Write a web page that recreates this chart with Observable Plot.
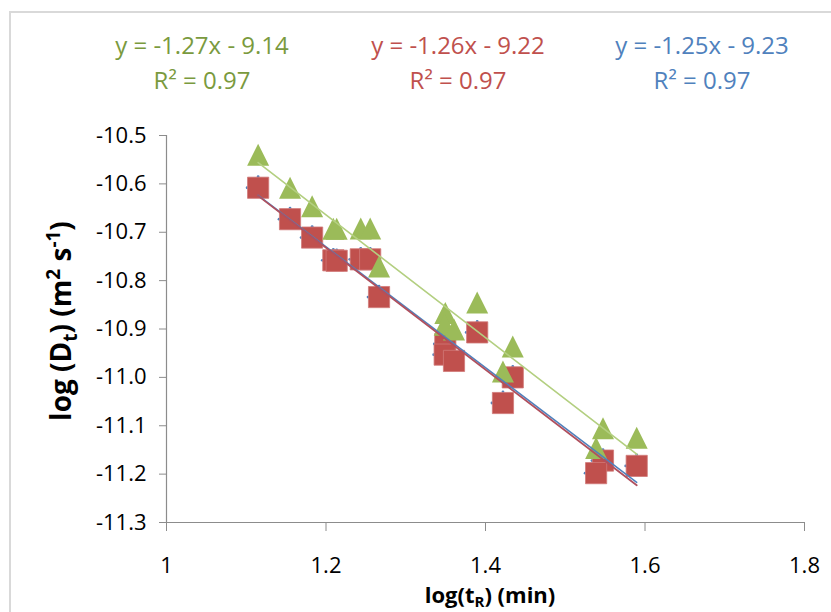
<!DOCTYPE html>
<html><head><meta charset="utf-8">
<script src="https://cdn.jsdelivr.net/npm/d3@7"></script>
<script src="https://cdn.jsdelivr.net/npm/@observablehq/plot@0.6"></script>
<style>
body{margin:0;background:#fff;overflow:hidden;}
#wrap{position:relative;width:831px;height:612px;overflow:hidden;font-family:"Open Sans",sans-serif;}
#frame{position:absolute;left:9px;top:11px;width:900px;height:700px;border-left:2px solid #d9d9d9;border-top:2px solid #d9d9d9;}
#header{position:absolute;left:0;top:0;width:831px;height:110px;}
.eq{position:absolute;transform:translate(-50%,-50%);white-space:nowrap;font-size:24px;line-height:1;}
#chart{position:absolute;left:0;top:110px;}
</style></head><body>
<div id="wrap"><div id="frame"></div><div id="header"></div><div id="chart"></div></div>
<script>
// x values: log(tR) (min)
const logTR = [1.1149,1.1549,1.1826,1.2092,1.2134,1.2436,1.2554,1.2665,1.3496,1.3488,1.3605,1.3896,1.4342,1.4219,1.5473,1.5387,1.5896];
// series values: log(Dt)
const greenD = [-10.540,-10.608,-10.646,-10.693,-10.693,-10.692,-10.692,-10.771,-10.867,-10.891,-10.901,-10.845,-10.936,-10.988,-11.105,-11.146,-11.125];
const redD   = [-10.608,-10.673,-10.711,-10.758,-10.759,-10.756,-10.756,-10.834,-10.931,-10.953,-10.966,-10.907,-11.000,-11.053,-11.172,-11.198,-11.183];
const blueD  = [-10.608,-10.673,-10.711,-10.758,-10.759,-10.756,-10.756,-10.834,-10.931,-10.953,-10.966,-10.907,-11.000,-11.053,-11.172,-11.198,-11.183];
// trendlines
const seriesKeys = ["green","red","blue"];
const slopes = [-1.27,-1.26,-1.25];
const intercepts = [-9.14,-9.22,-9.23];
const eqLabels = ["y = -1.27x - 9.14","y = -1.26x - 9.22","y = -1.25x - 9.23"];
const r2Labels = ["R² = 0.97","R² = 0.97","R² = 0.97"];
// ticks
const xTicks = [1,1.2,1.4,1.6,1.8];
const yTicks = [-10.5,-10.6,-10.7,-10.8,-10.9,-11.0,-11.1,-11.2,-11.3];

const markerColor = {green:"#9BBB59", red:"#C0504D", blue:"#4F81BD"};
const lineColor = {green:"#B3CF80", red:"#B0505E", blue:"#4F81BD"};
const textColor = {green:"#7A9A3E", red:"#C0504D", blue:"#4F81BD"};
const eqCenters = [202, 458, 702];

// header equations
const header = document.getElementById("header");
seriesKeys.forEach((k, i) => {
  [[eqLabels[i], 45], [r2Labels[i], 80]].forEach(([t, y]) => {
    const d = document.createElement("div");
    d.className = "eq";
    d.style.left = eqCenters[i] + "px";
    d.style.top = y + "px";
    d.style.color = textColor[k];
    d.textContent = t;
    header.appendChild(d);
  });
});

const pts = (vals) => logTR.map((x, i) => ({x, y: vals[i]}));
const xmin = d3.min(logTR), xmax = d3.max(logTR);
const trend = seriesKeys.flatMap((k, i) => [xmin, xmax].map(x => ({s: k, x, y: slopes[i] * x + intercepts[i]})));

const squareSym = {draw(ctx, size){ const r = Math.sqrt(size/Math.PI); ctx.rect(-r,-r,2*r,2*r); }};
const triSym = {draw(ctx, size){ const r = Math.sqrt(size/Math.PI); ctx.moveTo(0,-r); ctx.lineTo(r,r); ctx.lineTo(-r,r); ctx.closePath(); }};

const plot = Plot.plot({
  width: 831, height: 502,
  marginTop: 25, marginLeft: 166, marginRight: 27, marginBottom: 90,
  x: {domain: [1, 1.8]},
  y: {domain: [-11.3, -10.5]},
  style: {fontFamily: "'Open Sans', sans-serif", fontSize: "22px", color: "black", background: "transparent", overflow: "visible"},
  marks: [
    Plot.axisY({ticks: yTicks, tickSize: 7, tickPadding: 13, tickFormat: d => d.toFixed(1), stroke: "#8c8c8c", fill: "black", label: null, fontSize: 22}),
    Plot.axisX({ticks: xTicks, tickSize: 9, tickPadding: 26, tickFormat: d => String(+d.toFixed(1)), stroke: "#8c8c8c", fill: "black", label: null, fontSize: 22}),
    Plot.ruleX([1], {stroke: "#8c8c8c", strokeWidth: 1.2}),
    Plot.ruleY([-11.3], {stroke: "#8c8c8c", strokeWidth: 1.2}),
    Plot.dot(pts(blueD), {x: "x", y: "y", r: 1.4, fill: markerColor.blue, dy: -11}),
    Plot.dot(pts(blueD), {x: "x", y: "y", r: 1.4, fill: markerColor.blue, dx: -11}),
    Plot.dot(pts(redD), {x: "x", y: "y", r: 10.6, symbol: squareSym, fill: markerColor.red, stroke: "#d07a78", strokeWidth: 0.8}),
    Plot.dot(pts(greenD), {x: "x", y: "y", r: 11, symbol: triSym, fill: markerColor.green}),
    Plot.line(trend.filter(d => d.s === "blue"), {x: "x", y: "y", stroke: lineColor.blue, strokeWidth: 1.5}),
    Plot.line(trend.filter(d => d.s === "red"), {x: "x", y: "y", stroke: lineColor.red, strokeWidth: 1.8}),
    Plot.line(trend.filter(d => d.s === "green"), {x: "x", y: "y", stroke: lineColor.green, strokeWidth: 1.6})
  ]
});
document.getElementById("chart").appendChild(plot);

// axis titles with sub/superscripts
const svg = d3.select(plot);
const yt = svg.append("text")
  .attr("transform", "translate(71,211) rotate(-90)")
  .attr("text-anchor", "middle").attr("font-weight", "bold").attr("font-size", 28).attr("fill", "black");
yt.append("tspan").text("log (D");
yt.append("tspan").text("t").attr("font-size", 19).attr("dy", 6);
yt.append("tspan").text(") (m").attr("dy", -6);
yt.append("tspan").text("2").attr("font-size", 19).attr("dy", -11);
yt.append("tspan").text(" s").attr("dy", 11);
yt.append("tspan").text("-1").attr("font-size", 19).attr("dy", -11);
yt.append("tspan").text(")").attr("dy", 11);

const xt = svg.append("text")
  .attr("transform", "translate(490,493)")
  .attr("text-anchor", "middle").attr("font-weight", "bold").attr("font-size", 22).attr("fill", "black");
xt.append("tspan").text("log(t");
xt.append("tspan").text("R").attr("font-size", 15).attr("dy", 4);
xt.append("tspan").text(") (min)").attr("dy", -4);
</script>
</body></html>
